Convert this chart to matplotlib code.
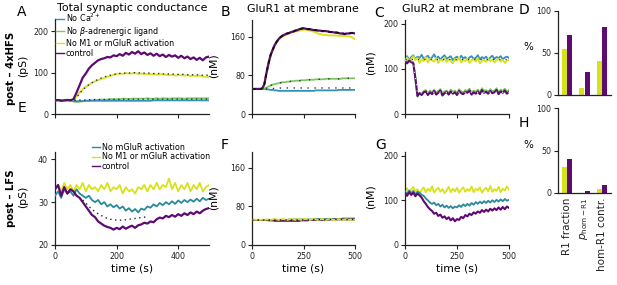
import numpy as np
import matplotlib
matplotlib.use("Agg")
import matplotlib.pyplot as plt

# ---------------- data ----------------
t = np.arange(0, 501, 10)

# Panel A (post-4xHFS, total synaptic conductance, pS)
A_control = [33, 34, 32, 33, 34, 33, 36, 52, 70, 88,
             98, 110, 118, 124, 130, 133, 135, 138, 137, 142,
             140, 145, 141, 148, 144, 150, 146, 152, 145, 149,
             143, 147, 141, 146, 140, 144, 138, 143, 139, 142,
             136, 141, 135, 139, 133, 137, 131, 136, 130, 137,
             139]
A_noM1 = [33, 33, 33, 33, 33, 33, 34, 42, 52, 60,
          66, 71, 75, 79, 82, 85, 87, 90, 92, 95,
          97, 98, 97, 99, 98, 98, 99, 97, 98, 97,
          97, 96, 97, 95, 96, 96, 95, 94, 95, 93,
          94, 94, 93, 94, 92, 93, 92, 93, 91, 90,
          89]
A_fit_hi = [33, 33, 33, 33, 33, 33, 34, 40, 50, 58,
            65, 71, 76, 80, 84, 87, 90, 92, 94, 96,
            97, 98, 99, 99, 99, 100, 100, 100, 99, 99,
            99, 99, 98, 98, 98, 97, 97, 97, 97, 96,
            96, 96, 96, 95, 95, 95, 95, 94, 94, 94,
            94]
A_noBeta = [33, 33, 33, 33, 33, 33, 30, 29, 30, 31,
            32, 33, 33, 34, 34, 35, 35, 35, 36, 36,
            36, 36, 37, 37, 36, 37, 37, 37, 37, 37,
            38, 37, 37, 38, 37, 38, 38, 37, 38, 38,
            38, 38, 37, 38, 38, 38, 38, 38, 38, 38,
            38]
A_noCa = [33, 33, 33, 33, 33, 33, 32, 31, 31, 31,
          32, 32, 32, 32, 32, 32, 32, 32, 32, 32,
          32, 32, 32, 32, 32, 32, 32, 32, 32, 32,
          32, 32, 33, 33, 33, 33, 33, 33, 33, 33,
          33, 33, 33, 33, 33, 33, 33, 33, 33, 33,
          33]
A_fit_lo = [33, 33, 33, 33, 33, 33, 33, 33, 33.5, 34,
            34, 34.5, 34.5, 35, 35, 35, 35, 35.5, 35.5, 35.5,
            35.5, 35.5, 35.5, 36, 36, 36, 36, 36, 36, 36,
            36, 36, 36, 36, 36, 36, 36, 36, 36, 36,
            36, 36, 36, 36, 36, 36, 36, 36, 36, 36,
            36]

# Panel E (post-LFS, total synaptic conductance, pS)
E_control = [33, 34, 31.5, 33.5, 32, 33, 32.5, 31.5, 31, 30,
             29, 28, 27, 26.5, 25.5, 25, 24.5, 24.2, 24, 23.6,
             24, 23.7, 24.3, 23.8, 24.2, 24.5, 24, 24.6, 24.8, 25.2,
             25, 25.5, 25.3, 26, 26.4, 26.2, 26.8, 26.5, 27, 26.6,
             27.2, 26.8, 27.4, 27, 27.6, 27.2, 27.8, 27.4, 28, 28.4,
             28.6]
E_noM = [31.5, 32.5, 31, 33, 32, 32.5, 31.5, 33, 32, 31.5,
         31, 31.5, 30.5, 30, 30.5, 29.5, 30, 29, 29.5, 28.8,
         29.3, 28.5, 29, 28, 28.6, 27.8, 28.4, 27.6, 28.5, 28.2,
         29, 28.7, 29.5, 29, 29.8, 29.3, 30, 29.5, 30.2, 29.6,
         30.4, 29.8, 30.5, 30, 30.6, 30.1, 30.8, 30.2, 31, 30.5,
         30.8]
E_noM1 = [33, 34, 32.5, 34.5, 33, 34, 32.5, 34, 33, 34.5,
          32.5, 34, 33, 33.5, 32.5, 34, 33, 34.5, 32.5, 33.5,
          33, 34, 32, 33.5, 32.5, 33, 32, 33.5, 33, 34,
          32.5, 34, 33, 34.5, 33, 34, 33.5, 35.5, 33, 34.5,
          32.5, 34, 33, 34.5, 32.5, 34, 33, 34.5, 32.5, 33.5,
          34]
E_fit_t = np.arange(90, 301, 10)
E_fit = [30.5, 29.8, 29, 28.3, 27.8, 27.3, 26.9, 26.5, 26.2, 26, 25.9,
         25.8, 25.8, 25.8, 25.9, 26, 26.1, 26.2, 26.3, 26.4, 26.5, 26.6]

# Panel B (post-4xHFS, GluR1 at membrane, nM)
B_control = [52, 52, 52, 52, 52, 53, 62, 85, 105, 122,
             133, 143, 150, 156, 160, 163, 165, 167, 168, 170,
             171, 173, 174, 176, 177, 178, 177, 176, 176, 175,
             174, 174, 173, 173, 172, 172, 172, 171, 170, 170,
             169, 169, 168, 167, 167, 166, 167, 167, 168, 168,
             167]
B_noM1 = [52, 52, 52, 52, 52, 53, 61, 83, 103, 120,
          131, 141, 148, 154, 158, 161, 163, 165, 167, 169,
          170, 171, 172, 173, 174, 175, 175, 174, 173, 172,
          171, 169, 167, 166, 165, 164, 164, 163, 163, 163,
          163, 163, 162, 162, 162, 162, 161, 161, 160, 158,
          155]
B_noBeta = [52, 52, 52, 52, 52, 52, 53, 55, 57, 59,
            61, 62, 63, 64, 65, 66, 66, 67, 67, 68,
            68, 69, 69, 69, 70, 70, 70, 71, 71, 71,
            71, 72, 72, 72, 72, 72, 73, 73, 73, 73,
            73, 73, 73, 73, 74, 74, 74, 74, 74, 74,
            74]
B_noCa = [52, 52, 52, 52, 52, 52, 52, 51, 51, 50,
          50, 49, 49, 48, 48, 48, 48, 48, 48, 48,
          48, 48, 48, 48, 48, 48, 48, 48, 48, 48,
          48, 49, 49, 49, 49, 49, 49, 49, 49, 49,
          49, 49, 50, 50, 50, 50, 50, 50, 50, 50,
          50]
B_fit_lo = [52, 52, 52, 52, 52, 52, 52, 53, 53, 53,
            53, 53, 53, 53, 54, 54, 54, 54, 54, 54,
            54, 54, 54, 54, 54, 54, 54, 54, 54, 54,
            54, 54, 54, 54, 54, 54, 54, 54, 54, 54,
            54, 54, 54, 54, 54, 54, 54, 54, 54, 54,
            54]

# Panel F (post-LFS, GluR1 at membrane, nM)
F_control = [52, 52, 52, 52, 52, 52, 52, 52, 51, 51,
             51, 50, 50, 50, 50, 50, 50, 50, 50, 50,
             50, 50, 50, 50, 51, 51, 51, 51, 52, 52,
             52, 52, 52, 52, 52, 52, 52, 52, 53, 53,
             53, 53, 53, 53, 53, 53, 53, 53, 53, 53,
             53]
F_noM = [52, 52, 52, 52, 52, 52, 52, 52, 52, 52,
         52, 52, 52, 52, 52, 52, 52, 52, 53, 53,
         53, 53, 53, 53, 53, 53, 53, 53, 53, 53,
         53, 54, 54, 54, 54, 54, 54, 54, 54, 54,
         54, 54, 54, 54, 55, 55, 55, 55, 55, 55,
         55]
F_noM1 = [52, 53, 52, 53, 52, 53, 52, 53, 53, 52,
          53, 54, 53, 52, 53, 54, 53, 52, 53, 54,
          53, 52, 54, 53, 52, 53, 54, 53, 52, 53,
          54, 53, 52, 53, 54, 53, 52, 53, 54, 53,
          52, 53, 54, 53, 52, 53, 54, 52, 53, 52,
          53]
F_fit = [52, 52, 52, 52, 52, 52, 52, 52, 52, 52,
         52, 52, 52, 52, 52, 52, 52, 52, 52, 52,
         52, 52, 52, 52, 52, 52, 52, 52, 52, 52,
         53, 53, 53, 53, 53, 53, 53, 53, 53, 53,
         53, 53, 53, 53, 53, 53, 53, 53, 53, 53,
         53]

# Panel C (post-4xHFS, GluR2 at membrane, nM)
C_noM1 = [118, 125, 115, 122, 128, 119, 124, 113, 121, 117,
          126, 114, 122, 119, 116, 124, 113, 120, 118, 125,
          115, 121, 117, 112, 122, 118, 125, 114, 120, 117,
          123, 113, 119, 121, 116, 124, 112, 118, 120, 115,
          123, 117, 121, 114, 119, 122, 116, 120, 113, 118,
          119]
C_noCa = [122, 128, 120, 126, 130, 121, 127, 124, 131, 122,
          126, 129, 121, 125, 132, 123, 127, 120, 126, 130,
          122, 125, 128, 119, 124, 127, 121, 129, 123, 126,
          120, 125, 128, 122, 124, 130, 121, 126, 123, 127,
          120, 125, 129, 122, 126, 124, 128, 121, 125, 127,
          124]
C_control = [117, 112, 118, 115, 112, 78, 40, 46, 42, 48,
             50, 42, 48, 44, 51, 43, 47, 52, 41, 46,
             49, 43, 50, 45, 48, 42, 51, 46, 44, 49,
             47, 52, 43, 48, 45, 50, 44, 53, 47, 49,
             45, 51, 46, 48, 53, 44, 50, 47, 52, 45,
             49]
C_noBeta = [120, 116, 121, 117, 115, 82, 38, 47, 45, 51,
            53, 46, 52, 48, 54, 47, 51, 55, 46, 50,
            52, 47, 54, 49, 52, 46, 55, 50, 48, 53,
            51, 56, 47, 52, 49, 54, 48, 57, 51, 53,
            49, 55, 50, 52, 57, 48, 54, 51, 56, 49,
            53]
C_fit_hi = [121] * 51
C_fit_lo = [118, 118, 118, 118, 116, 80, 46, 47, 47, 48,
            48, 48, 48, 48, 48, 48, 48, 48, 48, 48,
            48, 48, 48, 48, 48, 48, 48, 48, 48, 48,
            48, 48, 48, 48, 48, 48, 48, 48, 48, 48,
            48, 48, 48, 48, 48, 48, 48, 48, 48, 48,
            48]

# Panel G (post-LFS, GluR2 at membrane, nM)
G_noM1 = [120, 127, 116, 124, 130, 119, 125, 115, 123, 129,
          118, 126, 121, 131, 117, 124, 128, 119, 125, 116,
          122, 130, 118, 126, 120, 128, 117, 124, 129, 119,
          125, 121, 131, 118, 126, 122, 129, 117, 124, 128,
          120, 132, 119, 125, 121, 130, 118, 126, 122, 131,
          124]
G_noM = [120, 114, 122, 116, 121, 113, 119, 117, 112, 110,
         104, 100, 95, 92, 95, 89, 92, 86, 90, 84,
         88, 83, 87, 82, 86, 84, 89, 85, 91, 87,
         92, 88, 94, 90, 96, 92, 97, 93, 98, 94,
         99, 95, 100, 96, 101, 97, 102, 98, 103, 99,
         101]
G_control = [116, 110, 118, 112, 117, 109, 115, 111, 106, 98,
             92, 85, 80, 76, 70, 72, 65, 68, 61, 64,
             58, 62, 55, 60, 53, 58, 56, 63, 60, 67,
             64, 70, 67, 73, 70, 75, 72, 78, 74, 79,
             75, 81, 77, 82, 78, 84, 79, 85, 80, 86,
             83]

# Panels D and H (bars, %)
bar_labels = ["R1 fraction", r"$p_{\mathrm{hom-R1}}$", "hom-R1 contr."]
D_noM1 = [55, 8, 41]
D_control = [72, 27, 81]
H_noM1 = [31, 0.3, 4.4]
H_control = [40.5, 2.4, 10]

# ---------------- style ----------------
c_ca = "#3490c0"
c_mg = "#2a8a9a"
c_beta = "#7cc860"
c_m1 = "#d8e21c"
c_ctrl = "#5e0a72"

W, H = 617, 285
fig = plt.figure(figsize=(W / 100, H / 100), dpi=100)


def ax_px(x0, y0, x1, y1):
    return fig.add_axes([x0 / W, 1 - y1 / H, (x1 - x0) / W, (y1 - y0) / H])


def ftext(x, y, s, **kw):
    fig.text(x / W, 1 - y / H, s, ha="center", va="center", **kw)


def style(ax):
    for s in ["top", "right"]:
        ax.spines[s].set_visible(False)
    for s in ["left", "bottom"]:
        ax.spines[s].set_linewidth(0.9)
        ax.spines[s].set_color("#222222")
    ax.tick_params(labelsize=5.7, length=3, width=0.8, pad=2, colors="#222222")


lw = 1.3
dot = (0, (1, 2.5))

# A
axA = ax_px(55, 19, 209, 114)
style(axA)
axA.plot(t, A_noBeta, color=c_beta, lw=lw, label=r"No $\beta$-adrenergic ligand", zorder=2)
axA.plot(t, A_noCa, color=c_ca, lw=lw, label=r"No Ca$^{2+}$", zorder=3)
axA.plot(t, A_noM1, color=c_m1, lw=lw, label="No M1 or mGluR activation", zorder=3)
axA.plot(t, A_control, color=c_ctrl, lw=1.6, label="control", zorder=4)
axA.plot(t, A_fit_hi, color="#333333", lw=1.0, ls=dot, zorder=5)
axA.plot(t, A_fit_lo, color="#333333", lw=1.0, ls=dot, zorder=5)
axA.set_xlim(0, 500)
axA.set_ylim(0, 230)
axA.set_xticks([0, 200, 400])
axA.set_xticklabels([])
axA.set_yticks([0, 100, 200])
h, l = axA.get_legend_handles_labels()
order = [1, 0, 2, 3]
legA = axA.legend([h[i] for i in order], [l[i] for i in order], loc="upper left",
                  bbox_to_anchor=(0.006, 1.075), frameon=False, fontsize=5.8,
                  handlelength=1.0, handletextpad=0.2, labelspacing=0.1,
                  borderpad=0, borderaxespad=0)
for lh in legA.get_lines():
    lh.set_linewidth(1.0)

# E
axE = ax_px(55, 152, 209, 245)
style(axE)
axE.plot(t, E_noM, color=c_mg, lw=lw, label="No mGluR activation", zorder=3)
axE.plot(t, E_noM1, color=c_m1, lw=lw, label="No M1 or mGluR activation", zorder=2)
axE.plot(t, E_control, color=c_ctrl, lw=1.6, label="control", zorder=4)
axE.plot(E_fit_t, E_fit, color="#222222", lw=1.0, ls=dot, zorder=5)
axE.set_xlim(0, 500)
axE.set_ylim(20, 41.7)
axE.set_xticks([0, 200, 400])
axE.set_yticks([20, 30, 40])
axE.set_xlabel("time (s)", fontsize=7.8, labelpad=2)
legE = axE.legend(loc="upper left", bbox_to_anchor=(0.24, 1.1), frameon=False,
                  fontsize=5.8, handlelength=1.0, handletextpad=0.2,
                  labelspacing=0.08, borderpad=0, borderaxespad=0)
for lh in legE.get_lines():
    lh.set_linewidth(1.0)

# B
axB = ax_px(252, 20, 355, 114)
style(axB)
axB.plot(t, B_noCa, color=c_ca, lw=lw, zorder=2)
axB.plot(t, B_noBeta, color=c_beta, lw=lw, zorder=2)
axB.plot(t, B_noM1, color=c_m1, lw=1.4, zorder=3)
axB.plot(t, B_control, color=c_ctrl, lw=1.6, zorder=4)
axB.plot(t, B_control, color="#111111", lw=1.3, ls=(0, (2, 2)), zorder=5)
axB.plot(t, B_noBeta, color="#333333", lw=1.0, ls=(0, (1, 6)), zorder=5)
axB.plot(t, B_fit_lo, color="#333333", lw=1.0, ls=(0, (1, 4)), zorder=5)
axB.set_xlim(0, 500)
axB.set_ylim(0, 195)
axB.set_xticks([0, 250, 500])
axB.set_xticklabels([])
axB.set_yticks([0, 80, 160])

# F
axF = ax_px(252, 152, 355, 245)
style(axF)
axF.plot(t, F_noM, color=c_mg, lw=lw, zorder=2)
axF.plot(t, F_control, color=c_ctrl, lw=lw, zorder=3)
axF.plot(t, F_noM1, color=c_m1, lw=lw, zorder=3)
axF.plot(t, F_fit, color="#222222", lw=1.0, ls=(0, (1, 3)), zorder=5)
axF.set_xlim(0, 500)
axF.set_ylim(0, 193)
axF.set_xticks([0, 250, 500])
axF.set_yticks([0, 80, 160])
axF.set_xlabel("time (s)", fontsize=7.8, labelpad=2)

# C
axC = ax_px(405, 20, 509, 114)
style(axC)
axC.plot(t, C_noCa, color=c_ca, lw=lw, zorder=2)
axC.plot(t, C_noM1, color=c_m1, lw=lw, zorder=3)
axC.plot(t, C_noBeta, color=c_beta, lw=lw, zorder=2)
axC.plot(t, C_control, color=c_ctrl, lw=1.5, zorder=4)
axC.plot(t, C_fit_hi, color="#333333", lw=0.9, ls=(0, (1, 4)), zorder=5)
axC.plot(t, C_fit_lo, color="#cccccc", lw=0.9, ls=(0, (1, 4)), zorder=5)
axC.set_xlim(0, 500)
axC.set_ylim(0, 208)
axC.set_xticks([0, 250, 500])
axC.set_xticklabels([])
axC.set_yticks([0, 100, 200])

# G
axG = ax_px(405, 152, 509, 245)
style(axG)
axG.plot(t, G_noM1, color=c_m1, lw=lw, zorder=2)
axG.plot(t, G_noM, color=c_mg, lw=lw, zorder=3)
axG.plot(t, G_control, color=c_ctrl, lw=1.5, zorder=4)
axG.set_xlim(0, 500)
axG.set_ylim(0, 208)
axG.set_xticks([0, 250, 500])
axG.set_yticks([0, 100, 200])
axG.set_xlabel("time (s)", fontsize=7.8, labelpad=2)

# D and H bars
x = np.arange(len(bar_labels))
bw = 0.27
for (y0, y1), yn, yc in [((11, 95), D_noM1, D_control), ((108, 193), H_noM1, H_control)]:
    ax = ax_px(558, y0, 611, y1)
    style(ax)
    ax.bar(x - 0.15, yn, width=bw, color=c_m1)
    ax.bar(x + 0.15, yc, width=bw, color=c_ctrl)
    ax.set_xlim(-0.5, 2.5)
    ax.set_ylim(0, 100)
    ax.set_yticks([0, 50, 100])
    ax.set_xticks(x)
    if y0 == 11:
        ax.set_xticklabels([])
        ax.tick_params(axis="x", length=0)
    else:
        ax.set_xticklabels(bar_labels, rotation=90, fontsize=7.5)
        ax.tick_params(axis="x", length=0, pad=3)

# figure texts
ftext(132, 8, "Total synaptic conductance", fontsize=7.9)
ftext(303, 9, "GluR1 at membrane", fontsize=7.9)
ftext(458, 9, "GluR2 at membrane", fontsize=7.9)

for (px, py, s) in [(22, 12, "A"), (225, 12, "B"), (379, 13, "C"), (524, 10, "D"),
                    (22, 108, "E"), (225, 145, "F"), (381, 145, "G"), (524, 123, "H")]:
    ftext(px, py, s, fontsize=10)

ftext(11, 68, "post – 4xHFS", fontsize=7.3, fontweight="bold", rotation=90)
ftext(11, 198, "post – LFS", fontsize=7.3, fontweight="bold", rotation=90)
ftext(23, 66, "(pS)", fontsize=7.8, rotation=90)
ftext(23, 197, "(pS)", fontsize=7.8, rotation=90)
ftext(214, 66, "(nM)", fontsize=7.8, rotation=90)
ftext(214, 198, "(nM)", fontsize=7.8, rotation=90)
ftext(371, 63, "(nM)", fontsize=7.8, rotation=90)
ftext(371, 197, "(nM)", fontsize=7.8, rotation=90)
ftext(528, 47, "%", fontsize=7.5)
ftext(528, 145, "%", fontsize=7.5)

fig.savefig("out.png", dpi=100)
